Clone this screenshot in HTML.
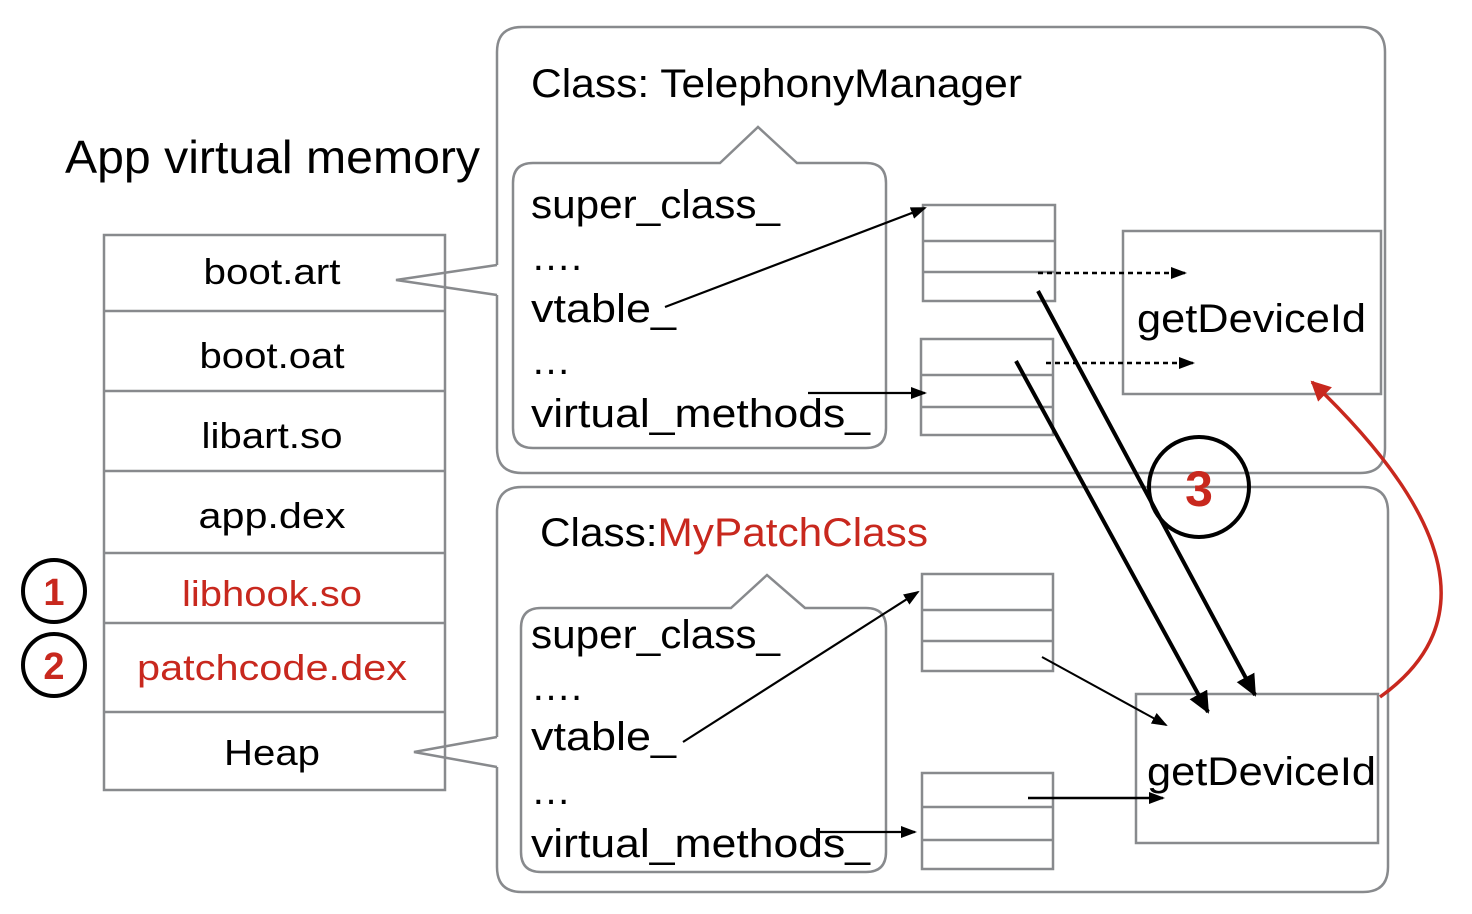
<!DOCTYPE html>
<html><head><meta charset="utf-8"><style>html,body{margin:0;padding:0;background:#fff;}svg{display:block}</style></head>
<body>
<svg width="1472" height="914" viewBox="0 0 1472 914" xmlns="http://www.w3.org/2000/svg" font-family="Liberation Sans, sans-serif">
<defs>
<marker id="ah" markerWidth="18" markerHeight="14" refX="14" refY="6" orient="auto" markerUnits="userSpaceOnUse"><path d="M0,0 L16,6 L0,12z" fill="#000"/></marker>
<marker id="ahb" markerWidth="24" markerHeight="24" refX="20" refY="10" orient="auto" markerUnits="userSpaceOnUse"><path d="M0,0 L22,10 L0,20z" fill="#000"/></marker>
<marker id="ahr" markerWidth="24" markerHeight="22" refX="18" refY="10" orient="auto" markerUnits="userSpaceOnUse"><path d="M0,0 L20,10 L0,20z" fill="#c8281e"/></marker>
</defs>
<g fill="none" stroke="#888a8d" stroke-width="2.5">
<path d="M497,265 L497,52 Q497,27 522,27 L1360,27 Q1385,27 1385,52 L1385,448 Q1385,473 1360,473 L522,473 Q497,473 497,448 L497,295"/>
<path d="M497,265 L396,280 L497,295"/>
<path d="M497,737 L497,512 Q497,487 522,487 L1363,487 Q1388,487 1388,512 L1388,867 Q1388,892 1363,892 L522,892 Q497,892 497,867 L497,767"/>
<path d="M497,737 L414,752 L497,767"/>
<path d="M720,163 L758,127 L797,163 L866,163 Q886,163 886,183 L886,428 Q886,448 866,448 L533,448 Q513,448 513,428 L513,183 Q513,163 533,163 Z"/>
<path d="M731,608 L767,575 L805,608 L866,608 Q886,608 886,628 L886,852 Q886,872 866,872 L541,872 Q521,872 521,852 L521,628 Q521,608 541,608 Z"/>
<rect x="104" y="235" width="341" height="555"/>
<path d="M104,311H445M104,391H445M104,471H445M104,553H445M104,623H445M104,712H445"/>
<rect x="923" y="205" width="132" height="96"/><path d="M923,241H1055M923,272H1055"/>
<rect x="921" y="339" width="132" height="96"/><path d="M921,375H1053M921,407H1053"/>
<rect x="922" y="574" width="131" height="97"/><path d="M922,610H1053M922,641H1053"/>
<rect x="922" y="773" width="131" height="96"/><path d="M922,807H1053M922,840H1053"/>
<rect x="1123" y="231" width="258" height="163"/>
<rect x="1136" y="694" width="242" height="149"/>
</g>
<g font-size="40" fill="#000" lengthAdjust="spacingAndGlyphs">
<text x="531" y="97" textLength="491" lengthAdjust="spacingAndGlyphs">Class: TelephonyManager</text>
<text x="540" y="546" textLength="388" lengthAdjust="spacingAndGlyphs">Class:<tspan fill="#c8281e">MyPatchClass</tspan></text>
<text x="65" y="173" font-size="46" textLength="415" lengthAdjust="spacingAndGlyphs">App virtual memory</text>
<text x="531" y="218" textLength="249" lengthAdjust="spacingAndGlyphs">super_class_</text><text x="531" y="270">….</text><text x="531" y="322" textLength="145" lengthAdjust="spacingAndGlyphs">vtable_</text><text x="531" y="374">…</text><text x="531" y="427" textLength="339" lengthAdjust="spacingAndGlyphs">virtual_methods_</text>
<text x="531" y="648" textLength="249" lengthAdjust="spacingAndGlyphs">super_class_</text><text x="531" y="700">….</text><text x="531" y="750" textLength="145" lengthAdjust="spacingAndGlyphs">vtable_</text><text x="531" y="804">…</text><text x="531" y="857" textLength="339" lengthAdjust="spacingAndGlyphs">virtual_methods_</text>
<text x="1137" y="332" textLength="229" lengthAdjust="spacingAndGlyphs">getDeviceId</text>
<text x="1147" y="785" textLength="229" lengthAdjust="spacingAndGlyphs">getDeviceId</text>
</g>
<g font-size="36" text-anchor="middle" fill="#000">
<text x="272" y="284" textLength="137" lengthAdjust="spacingAndGlyphs">boot.art</text><text x="272" y="368" textLength="145" lengthAdjust="spacingAndGlyphs">boot.oat</text><text x="272" y="448" textLength="141" lengthAdjust="spacingAndGlyphs">libart.so</text><text x="272" y="528" textLength="147" lengthAdjust="spacingAndGlyphs">app.dex</text>
<text x="272" y="606" fill="#c8281e" textLength="180" lengthAdjust="spacingAndGlyphs">libhook.so</text><text x="272" y="680" fill="#c8281e" textLength="270" lengthAdjust="spacingAndGlyphs">patchcode.dex</text><text x="272" y="765" textLength="96" lengthAdjust="spacingAndGlyphs">Heap</text>
</g>
<g stroke="#000" fill="none">
<line x1="665" y1="307" x2="925" y2="208" stroke-width="2.2" marker-end="url(#ah)"/>
<line x1="808" y1="393" x2="925" y2="393" stroke-width="2.2" marker-end="url(#ah)"/>
<line x1="1038" y1="273" x2="1185" y2="273" stroke-width="2.5" stroke-dasharray="5,4" marker-end="url(#ah)"/>
<line x1="1046" y1="363" x2="1193" y2="363" stroke-width="2.5" stroke-dasharray="5,4" marker-end="url(#ah)"/>
<line x1="1038" y1="291" x2="1255" y2="695" stroke-width="4" marker-end="url(#ahb)"/>
<line x1="1016" y1="361" x2="1208" y2="712" stroke-width="4" marker-end="url(#ahb)"/>
<line x1="683" y1="742" x2="918" y2="592" stroke-width="2.2" marker-end="url(#ah)"/>
<line x1="1042" y1="657" x2="1166" y2="725" stroke-width="2" marker-end="url(#ah)"/>
<line x1="1028" y1="798" x2="1163" y2="798" stroke-width="2.5" marker-end="url(#ah)"/>
<line x1="816" y1="832" x2="915" y2="832" stroke-width="2.2" marker-end="url(#ah)"/>
<circle cx="1199" cy="487" r="50" stroke-width="4"/>
<circle cx="54" cy="591" r="31" stroke-width="4"/>
<circle cx="54" cy="665" r="31" stroke-width="4"/>
<path d="M1380,697 Q1530,590 1312,382" stroke="#c8281e" stroke-width="3.5" marker-end="url(#ahr)"/>
</g>
<g font-weight="bold" fill="#c8281e" text-anchor="middle">
<text x="1199" y="506" font-size="50">3</text>
<text x="54" y="605" font-size="38">1</text>
<text x="54" y="679" font-size="38">2</text>
</g>
</svg>
</body></html>
